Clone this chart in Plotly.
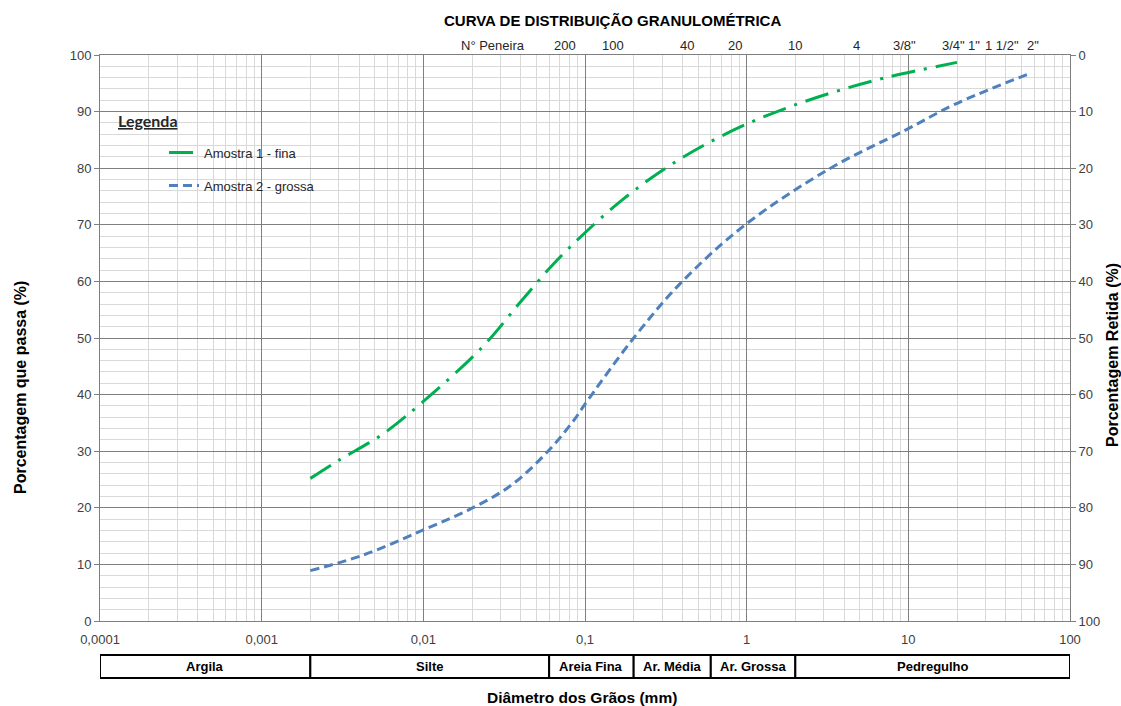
import math
import plotly.graph_objects as go

# ---------------- data ----------------
d_fina = [0.002, 0.003, 0.0056, 0.01, 0.023, 0.04, 0.063, 0.1, 0.17, 0.3, 0.54, 1.0, 1.87, 3.6, 7.0, 20.0]
p_fina = [25.2, 28.4, 33.0, 38.8, 48.3, 56.4, 62.9, 68.6, 74.4, 79.6, 84.0, 87.8, 90.9, 93.6, 95.9, 98.7]

d_grossa = [0.002, 0.0043, 0.01, 0.0196, 0.035, 0.06, 0.0855, 0.1, 0.2, 0.4, 1.0, 3.3, 9.86, 19.1, 57.0]
p_grossa = [8.9, 11.7, 16.1, 19.8, 24.0, 30.2, 35.5, 38.3, 50.0, 60.0, 70.2, 80.0, 86.9, 91.2, 96.8]

sieve_labels = ['200', '100', '40', '20', '10', '4', '3/8"', '3/4"', '1"', '1 1/2"', '2"']
sieve_mm = [0.075, 0.15, 0.425, 0.85, 2.0, 4.75, 9.5, 19.0, 25.4, 38.1, 50.8]

x_tickvals = [0.0001, 0.001, 0.01, 0.1, 1, 10, 100]
x_ticktext = ['0,0001', '0,001', '0,01', '0,1', '1', '10', '100']
y_ticks = [0, 10, 20, 30, 40, 50, 60, 70, 80, 90, 100]

soil_names = ['Argila', 'Silte', 'Areia Fina', 'Ar. Média', 'Ar. Grossa', 'Pedregulho']
soil_limits = [0.0001, 0.002, 0.06, 0.2, 0.6, 2.0, 100]

# ---------------- figure ----------------
FONT = 'Liberation Sans, Arial, sans-serif'
GREEN = '#00B050'
BLUE = '#4F81BD'

fig = go.Figure()
fig.add_trace(go.Scatter(
    x=d_fina, y=p_fina, mode='lines', name='Amostra 1 - fina',
    legendgroup='a', line=dict(color=GREEN, width=3, dash='24px,9px,3px,9px', shape='spline', smoothing=1.0)))
fig.add_trace(go.Scatter(
    x=d_grossa, y=p_grossa, mode='lines', name='Amostra 2 - grossa',
    legendgroup='b', line=dict(color=BLUE, width=3, dash='9px,5px', shape='spline', smoothing=1.0)))
# empty trace to activate the right-hand (retained %) axis
fig.add_trace(go.Scatter(x=[], y=[], yaxis='y2', showlegend=False, hoverinfo='skip'))

minor_x = [k * 10 ** e for e in range(-4, 2) for k in range(2, 10)]

fig.update_layout(
    width=1121, height=706,
    margin=dict(l=100, r=51, t=55, b=85),
    paper_bgcolor='white', plot_bgcolor='white',
    font=dict(family=FONT, size=13, color='#404040'),
    xaxis=dict(
        type='log', range=[-4, 2],
        tickmode='array', tickvals=x_tickvals, ticktext=x_ticktext,
        showgrid=True, gridcolor='#7f7f7f', gridwidth=1,
        minor=dict(tickmode='array', tickvals=minor_x, showgrid=True, gridcolor='#d9d9d9', gridwidth=1, ticks=''),
        showline=True, linecolor='#7f7f7f', linewidth=1, mirror=True,
        ticks='', ticklabelstandoff=6,
        tickfont=dict(size=13, color='#404040'), zeroline=False,
    ),
    yaxis=dict(
        range=[0, 100], tickmode='array', tickvals=y_ticks,
        showgrid=True, gridcolor='#7f7f7f', gridwidth=1,
        minor=dict(dtick=2, showgrid=True, gridcolor='#d9d9d9', gridwidth=1, ticks=''),
        showline=True, linecolor='#7f7f7f', linewidth=1,
        ticks='outside', ticklen=5, tickcolor='#7f7f7f',
        tickfont=dict(size=13, color='#404040'), zeroline=False,
    ),
    yaxis2=dict(
        overlaying='y', side='right', range=[100, 0],
        tickmode='array', tickvals=y_ticks, showgrid=False,
        showline=True, linecolor='#7f7f7f', linewidth=1,
        ticks='outside', ticklen=5, tickcolor='#7f7f7f',
        tickfont=dict(size=13, color='#404040'), zeroline=False,
    ),
    showlegend=True,
    legend=dict(
        x=0.066, y=0.854, xanchor='left', yanchor='top',
        bgcolor='rgba(0,0,0,0)', borderwidth=0,
        font=dict(family=FONT, size=13, color='#262626'),
        traceorder='grouped', tracegroupgap=13, itemwidth=30,
    ),
)

shapes = []
# white legend boxes
shapes.append(dict(type='rect', xref='paper', yref='paper', x0=0.002, x1=0.0928, y0=0.862, y1=0.906,
                   fillcolor='white', line=dict(width=0), layer='between'))
shapes.append(dict(type='rect', xref='paper', yref='paper', x0=0.002, x1=0.2887, y0=0.744, y1=0.862,
                   fillcolor='white', line=dict(width=0), layer='between'))

annotations = []
# soil classification band
for i, name in enumerate(soil_names):
    a, b = soil_limits[i], soil_limits[i + 1]
    shapes.append(dict(type='rect', xref='x', yref='paper', x0=a, x1=b, y0=-0.1007, y1=-0.060,
                       line=dict(color='black', width=2), fillcolor='white', layer='above'))
    annotations.append(dict(x=(math.log10(a) + math.log10(b)) / 2, y=-0.0804, xref='x', yref='paper',
                            text='<b>%s</b>' % name, showarrow=False, xanchor='center', yanchor='middle',
                            font=dict(family=FONT, size=13, color='black')))

# sieve labels
for lab, mm in zip(sieve_labels, sieve_mm):
    annotations.append(dict(x=math.log10(mm), y=1.016, xref='x', yref='paper', text=lab,
                            showarrow=False, xanchor='center', yanchor='middle',
                            xshift=(11 if lab == '2"' else 0),
                            font=dict(family=FONT, size=13, color='#262626')))
annotations.append(dict(x=0.405, y=1.016, xref='paper', yref='paper', text='N° Peneira',
                        showarrow=False, xanchor='center', yanchor='middle',
                        font=dict(family=FONT, size=13, color='#262626')))

# titles
annotations.append(dict(x=0.528, y=1.0618, xref='paper', yref='paper', showarrow=False,
                        text='<b>CURVA DE DISTRIBUIÇÃO GRANULOMÉTRICA</b>', xanchor='center', yanchor='middle',
                        font=dict(family=FONT, size=15, color='black')))
annotations.append(dict(x=0.497, y=-0.1343, xref='paper', yref='paper', showarrow=False,
                        text='<b>Diâmetro dos Grãos (mm)</b>', xanchor='center', yanchor='middle',
                        font=dict(family=FONT, size=15.5, color='black')))
annotations.append(dict(x=-0.0825, y=0.4134, xref='paper', yref='paper', showarrow=False,
                        text='<b>Porcentagem que passa (%)</b>', textangle=-90,
                        xanchor='center', yanchor='middle',
                        font=dict(family=FONT, size=16, color='black')))
annotations.append(dict(x=1.0443, y=0.47, xref='paper', yref='paper', showarrow=False,
                        text='<b>Porcentagem Retida (%)</b>', textangle=-90,
                        xanchor='center', yanchor='middle',
                        font=dict(family=FONT, size=16, color='black')))
# legend heading
annotations.append(dict(x=0.016, y=0.884, xref='paper', yref='paper', showarrow=False,
                        text='<b><u>Legenda</u></b>', xanchor='left', yanchor='middle',
                        font=dict(family='Lato, Carlito, sans-serif', size=16, color='#262626')))

fig.update_layout(shapes=shapes, annotations=annotations)

fig.write_html('out.html', config={'displayModeBar': False},
               post_script="document.body.style.margin='0';")
